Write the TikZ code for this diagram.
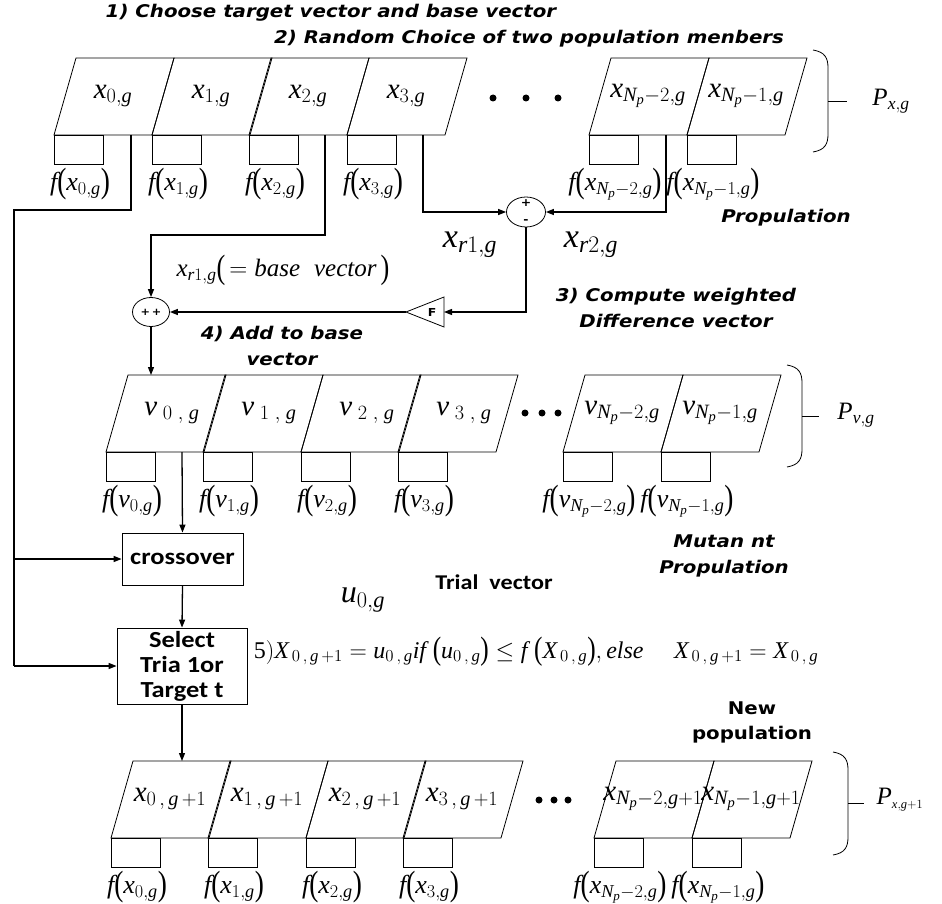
\RequirePackage{fix-cm}
\documentclass[tikz,border=0pt]{standalone}
\usepackage{fontspec}
\setmainfont{Liberation Serif}
\newfontfamily\stepfont{DejaVu Sans}[FakeStretch=1.13]
\newfontfamily\boxfont{Carlito}[FakeStretch=1.15]
\newfontfamily\serifit[NFSSFamily=libser]{Liberation Serif}
\usetikzlibrary{arrows.meta,shapes.geometric,calc}

% italic math letters taken from the serif text face
\DeclareSymbolFont{tletters}{TU}{libser}{m}{it}
\DeclareMathSymbol{x}{\mathalpha}{tletters}{`x}
\DeclareMathSymbol{f}{\mathalpha}{tletters}{`f}
\DeclareMathSymbol{g}{\mathalpha}{tletters}{`g}
\DeclareMathSymbol{v}{\mathalpha}{tletters}{`v}
\DeclareMathSymbol{u}{\mathalpha}{tletters}{`u}
\DeclareMathSymbol{r}{\mathalpha}{tletters}{`r}
\DeclareMathSymbol{p}{\mathalpha}{tletters}{`p}
\DeclareMathSymbol{N}{\mathalpha}{tletters}{`N}
\DeclareMathSymbol{P}{\mathalpha}{tletters}{`P}
\DeclareMathSymbol{X}{\mathalpha}{tletters}{`X}

% tall round brackets
\newcommand{\lp}{\mathopen{\vcenter{\hbox{\scalebox{1.05}[1.35]{(}}}}}
\newcommand{\rp}{\mathclose{\vcenter{\hbox{\scalebox{1.05}[1.35]{)}}}}}

% one member of a population: slanted cell, fitness box and fitness label
\newcommand{\popcell}[6]{%
  \draw[cellline] (#2,#3) -- ++(22,-77) -- ++(98,0) -- ++(-22,77) -- cycle;
  \node[celltext] (#1) at ({#2+59},{#3-39}) {#4};
  \draw[cellline] (#2,#3) rectangle ++(49,29);
  \node[flabel] (#5) at ({#2+26},{#3+49}) {#6};
}
% right-hand bracket that groups a population row
\newcommand{\popbrace}[4]{%
  \draw[cellline] (#1,#2) .. controls ({#1+12},{#2+2}) and ({#1+15},{#2+8}) .. ({#1+15},{#2+18})
    -- ({#1+15},{#3-18}) .. controls ({#1+15},{#3-8}) and ({#1+12},{#3-2}) .. (#1,#3);
  \draw[cellline] ({#1+15},{(#2+#3)/2}) -- ({#1+15+#4},{(#2+#3)/2});
}

\begin{document}
\begin{tikzpicture}[x=1pt,y=-1pt,
  cellline/.style={line width=0.8pt},
  conn/.style={line width=1.3pt},
  arr/.style={conn,-{Triangle[length=8pt,width=6pt]}},
  celltext/.style={inner sep=0pt, font=\fontsize{29}{31}\selectfont},
  flabel/.style={inner sep=0pt, font=\fontsize{26}{28}\selectfont},
  biglabel/.style={inner sep=0pt, font=\fontsize{34}{36}\selectfont},
  plabel/.style={inner sep=0pt, font=\fontsize{25}{27}\selectfont},
  steplabel/.style={inner sep=0pt, align=center, font=\stepfont\bfseries\itshape\fontsize{17.5}{26}\selectfont},
  newlabel/.style={inner sep=0pt, align=center, font=\stepfont\bfseries\fontsize{17.5}{25}\selectfont},
  boxlabel/.style={inner sep=0pt, align=center, font=\boxfont\bfseries\fontsize{23}{26}\selectfont},
  selectlabel/.style={inner sep=0pt, align=center, font=\boxfont\bfseries\fontsize{23}{25}\selectfont},
  triallabel/.style={inner sep=0pt, font=\boxfont\bfseries\fontsize{21}{24}\selectfont},
  procbox/.style={draw, line width=0.8pt, inner sep=0pt},
  dot/.style={circle, fill, inner sep=0pt, minimum size=7pt}
]
\useasboundingbox (0,0) rectangle (942,904);

% ---------- step titles ----------
\node[steplabel] (t1) at (331,13) {1) Choose target vector and base vector};
\node[steplabel] (t2) at (529,39) {2) Random Choice of two population menbers};

% ---------- current population ----------
\popcell{x0}{54}{135}{$x_{0,g}$}{fx0}{$f\lp x_{0,g}\rp$}
\popcell{x1}{152}{135}{$x_{1,g}$}{fx1}{$f\lp x_{1,g}\rp$}
\popcell{x2}{249}{135}{$x_{2,g}$}{fx2}{$f\lp x_{2,g}\rp$}
\popcell{x3}{347}{135}{$x_{3,g}$}{fx3}{$f\lp x_{3,g}\rp$}
\popcell{xa}{589}{135}{$x_{N_p-2,g}$}{fxa}{$f\lp x_{N_p-2,g}\rp$}
\popcell{xb}{687}{135}{$x_{N_p-1,g}$}{fxb}{$f\lp x_{N_p-1,g}\rp$}
\node[dot] (xd1) at (493,98) {};
\node[dot] (xd2) at (526,98) {};
\node[dot] (xd3) at (558,98) {};
\popbrace{813}{50}{152}{19}
\node[plabel] (Px) at (891,101) {$P_{x,g}$};
\node[steplabel] (prop1) at (786,218) {Propulation};

% ---------- difference and mutation ----------
\node[draw, ellipse, line width=0.8pt, minimum width=39pt, minimum height=30pt, inner sep=0pt] (diff) at (526,212) {};
\node[inner sep=0pt, font=\stepfont\bfseries\fontsize{11}{12}\selectfont] (dplus) at (526,203) {+};
\node[inner sep=0pt, font=\stepfont\bfseries\fontsize{11}{12}\selectfont] (dminus) at (526,222) {-};
\node[draw, ellipse, line width=0.8pt, minimum width=37pt, minimum height=29pt, inner sep=0pt,
      font=\stepfont\bfseries\fontsize{10}{12}\selectfont] (add) at (151,312) {+\,+};

\coordinate (Ftip) at (406,312);
\coordinate (Fbase) at (444,312);
\draw[line width=0.8pt] (Ftip) -- (444,297) -- (444,327) -- cycle;
\node[inner sep=0pt, font=\stepfont\bfseries\fontsize{11}{12}\selectfont] (Flab) at (432,312) {F};

\node[biglabel] (xr1) at (470,245) {$x_{r1,g}$};
\node[biglabel] (xr2) at (591,245) {$x_{r2,g}$};
\node[inner sep=0pt, font=\fontsize{25}{27}\selectfont] (baselab) at (283,270)
  {$x_{r1,g}\lp\,{=}\;\mathit{base}\;\;\mathit{vector}\,\rp$};
\node[steplabel] (t3) at (676,308) {3) Compute weighted\\Difference vector};
\node[steplabel] (t4) at (282,346) {4) Add to base\\vector};

\coordinate (tgttap) at (131,135);
\coordinate (tgtturn) at (14,210);
\coordinate (leftend) at (14,666);
\coordinate (basetap) at (325,135);
\coordinate (baseturn) at (325,235);
\coordinate (r1tap) at (423,135);
\coordinate (r2tap) at (666,135);
\coordinate (vtop) at (151,375);

\draw[conn] (tgttap) |- (tgtturn) -- (leftend);
\draw[arr] (basetap) -- (baseturn) -| (add.north);
\draw[arr] (r1tap) |- (diff.west);
\draw[arr] (r2tap) |- (diff.east);
\draw[arr] (diff.south) |- (Fbase);
\draw[arr] (Ftip) -- (add.east);
\draw[arr] (add.south) -- (vtop);

% ---------- mutant population ----------
\popcell{v0}{106}{452}{$\hspace{14pt}v_{\;0\;,\;g}$}{fv0}{$f\lp v_{0,g}\rp$}
\popcell{v1}{203}{452}{$\hspace{14pt}v_{\;1\;,\;g}$}{fv1}{$f\lp v_{1,g}\rp$}
\popcell{v2}{301}{452}{$\hspace{14pt}v_{\;2\;,\;g}$}{fv2}{$f\lp v_{2,g}\rp$}
\popcell{v3}{398}{452}{$\hspace{14pt}v_{\;3\;,\;g}$}{fv3}{$f\lp v_{3,g}\rp$}
\popcell{va}{563}{452}{$v_{N_p-2,g}$}{fva}{$f\lp v_{N_p-2,g}\rp$}
\popcell{vb}{661}{452}{$v_{N_p-1,g}$}{fvb}{$f\lp v_{N_p-1,g}\rp$}
\node[dot] (vd1) at (525,413) {};
\node[dot] (vd2) at (542,413) {};
\node[dot] (vd3) at (558,413) {};
\popbrace{787}{365}{467}{17}
\node[plabel] (Pv) at (856,415) {$P_{v,g}$};
\node[steplabel] (mut) at (724,556) {Mutan nt\\Propulation};

% ---------- crossover and selection ----------
\node[procbox, boxlabel, minimum width=121pt, minimum height=52pt] (cross) at (182.5,559) {crossover};
\node[procbox, selectlabel, minimum width=130pt, minimum height=76pt] (select) at (182,666) {Select\\Tria 1or\\Target t};
\node[triallabel] (trial) at (494,582) {Trial\ \ vector};
\node[inner sep=0pt, font=\fontsize{32}{34}\selectfont] (u0) at (363,600) {$u_{0,g}$};
\node[inner sep=0pt, font=\fontsize{24}{26}\selectfont] (rule) at (536,652)
  {$\mathrm{5)}X_{\,0\,,\,g\,+1}=u_{0\,,\,g}\mathit{if}\;\lp u_{0\,,\,g}\rp\le f\;\lp X_{\,0\,,\,g}\rp,\mathit{else}\quad\; X_{\,0\,,\,g\,+1}=X_{\,0\,,\,g}$};

\coordinate (vtap) at (182,452);
\coordinate (ntop) at (182,761);
\draw[arr] (vtap) -- (cross.north);
\draw[arr] (cross.south) -- (select.north);
\draw[arr] (leftend |- cross.west) -- (cross.west);
\draw[arr] (leftend) -- (leftend -| select.west);
\draw[arr] (select.south) -- (ntop);

% ---------- new population ----------
\node[newlabel] (newpop) at (752,722) {New\\population};
\popcell{n0}{111}{838}{$x_{0\,,\,g\,+1}$}{fn0}{$f\lp x_{0,g}\rp$}
\popcell{n1}{208}{838}{$x_{1\,,\,g\,+1}$}{fn1}{$f\lp x_{1,g}\rp$}
\popcell{n2}{306}{838}{$x_{2\,,\,g\,+1}$}{fn2}{$f\lp x_{2,g}\rp$}
\popcell{n3}{403}{838}{$x_{3\,,\,g\,+1}$}{fn3}{$f\lp x_{3,g}\rp$}
\popcell{na}{594}{838}{$x_{N_p-2,g+1}$}{fna}{$f\lp x_{N_p-2,g}\rp$}
\popcell{nb}{692}{838}{$x_{N_p-1,g+1}$}{fnb}{$f\lp x_{N_p-1,g}\rp$}
\node[dot] (nd1) at (539,800) {};
\node[dot] (nd2) at (554,800) {};
\node[dot] (nd3) at (568,800) {};
\popbrace{833}{752}{855}{16}
\node[plabel] (Pn) at (900,800) {$P_{\scriptscriptstyle x,g+1}$};
\end{tikzpicture}
\end{document}
